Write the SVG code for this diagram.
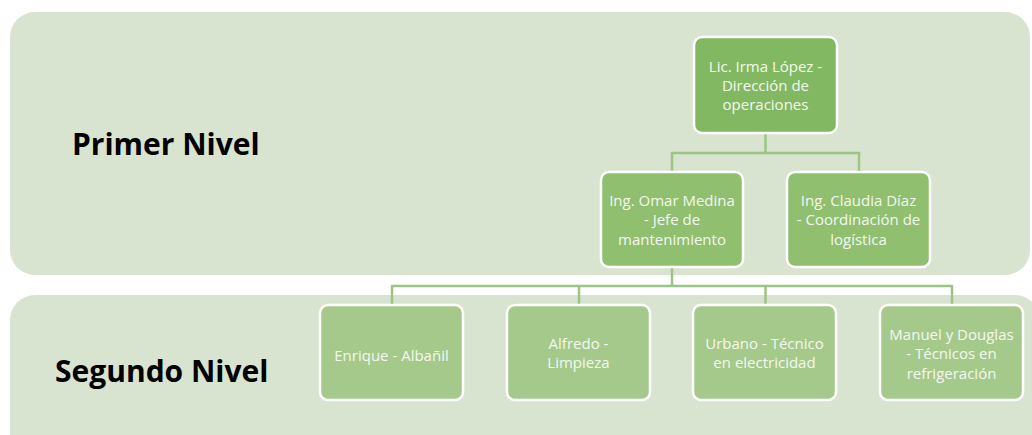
<svg xmlns="http://www.w3.org/2000/svg" width="1032" height="435" viewBox="0 0 1032 435">
<style>
.band{fill:#d8e4d0}
.node rect{stroke:#ffffff;stroke-width:2.5}
.l1 rect{fill:#83b862}
.l2 rect{fill:#8fbf6f}
.l3 rect{fill:#a5c98b}
.node text{font-family:"Open Sans","Noto Sans",sans-serif;font-size:15px;fill:#f4f8f0;text-anchor:middle}
.lbl{font-family:"Open Sans","Noto Sans",sans-serif;font-weight:bold;font-size:30px;fill:#000}
.conn path{fill:none;stroke:#9cc585;stroke-width:2.5}
</style>
<g id="bands">
<rect class="band" x="10" y="12" width="1020" height="263" rx="25"/>
<rect class="band" x="10" y="295" width="1030" height="170" rx="25"/>
</g>
<text id="primer" class="lbl" x="72" y="155">Primer Nivel</text>
<text id="segundo" class="lbl" x="55" y="382">Segundo Nivel</text>
<g class="conn" id="connectors">
<path d="M765.5 132 V153 M672 153 H859 M672 152 V172 M859 152 V172"/>
<path d="M672 267 V286 M392 286 H952 M392 285 V305 M579 285 V305 M765.5 285 V305 M952 285 V305"/>
</g>
<g id="n-irma" class="node l1">
<rect x="694" y="37" width="143" height="96" rx="8"/>
<text x="765.5" y="72">Lic. Irma López -</text>
<text x="765.5" y="91">Dirección de</text>
<text x="765.5" y="110">operaciones</text>
</g>
<g id="n-omar" class="node l2">
<rect x="601" y="172" width="142" height="95" rx="8"/>
<text x="672" y="205.5">Ing. Omar Medina</text>
<text x="672" y="225">- Jefe de</text>
<text x="672" y="244.5">mantenimiento</text>
</g>
<g id="n-claudia" class="node l2">
<rect x="787" y="172" width="143" height="95" rx="8"/>
<text x="858.5" y="205.5">Ing. Claudia Díaz</text>
<text x="858.5" y="225">- Coordinación de</text>
<text x="858.5" y="244.5">logística</text>
</g>
<g id="n-enrique" class="node l3">
<rect x="320" y="305" width="143" height="95" rx="8"/>
<text x="391.5" y="360.5">Enrique - Albañil</text>
</g>
<g id="n-alfredo" class="node l3">
<rect x="507" y="305" width="143" height="95" rx="8"/>
<text x="578.5" y="348.5">Alfredo -</text>
<text x="578.5" y="368">Limpieza</text>
</g>
<g id="n-urbano" class="node l3">
<rect x="693" y="305" width="143" height="95" rx="8"/>
<text x="764.5" y="348.5">Urbano - Técnico</text>
<text x="764.5" y="368">en electricidad</text>
</g>
<g id="n-manuel" class="node l3">
<rect x="880" y="305" width="143" height="95" rx="8"/>
<text x="951.5" y="339.5">Manuel y Douglas</text>
<text x="951.5" y="359">- Técnicos en</text>
<text x="951.5" y="378.5">refrigeración</text>
</g>
</svg>
